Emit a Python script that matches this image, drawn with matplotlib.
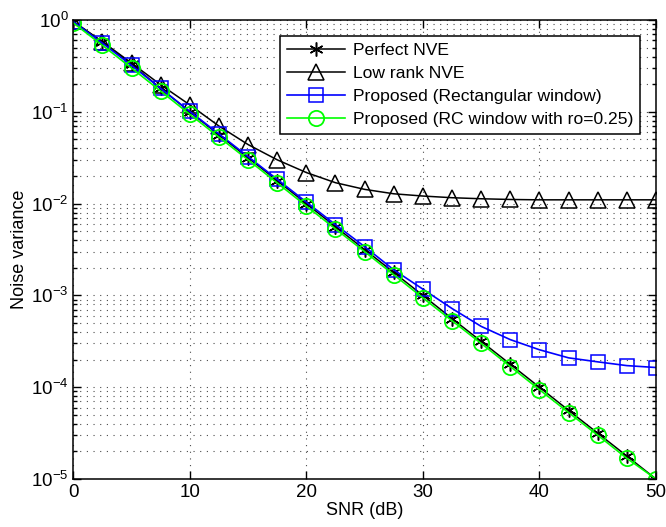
import matplotlib.pyplot as plt
from matplotlib.ticker import LogLocator, NullFormatter

plt.rcParams['font.family'] = ['Liberation Sans', 'DejaVu Sans']
plt.rcParams['mathtext.fontset'] = 'custom'
plt.rcParams['mathtext.rm'] = 'Liberation Sans'
plt.rcParams['mathtext.it'] = 'Liberation Sans:italic'

# data
snr = [0, 2.5, 5, 7.5, 10, 12.5, 15, 17.5, 20, 22.5, 25,
       27.5, 30, 32.5, 35, 37.5, 40, 42.5, 45, 47.5, 50]
perfect = [0.95, 0.58, 0.33, 0.18, 0.1, 0.056, 0.0316, 0.0178, 0.01, 0.0056, 0.00316,
           0.00178, 0.001, 0.00056, 0.000316, 0.000178, 0.0001, 5.6e-5, 3.16e-5, 1.78e-5, 1e-5]
low_rank = [0.97, 0.58, 0.34, 0.197, 0.119, 0.07, 0.044, 0.030, 0.0218, 0.0169, 0.0143,
            0.0128, 0.0121, 0.0116, 0.0113, 0.0111, 0.011, 0.011, 0.011, 0.011, 0.011]
rect = [0.96, 0.56, 0.32, 0.18, 0.101, 0.0575, 0.0325, 0.0184, 0.0104, 0.0059, 0.0034,
        0.0019, 0.00117, 0.00072, 0.00046, 0.00033, 0.000256, 0.000209, 0.000189, 0.000172, 0.000164]
rc = [0.93, 0.53, 0.30, 0.168, 0.094, 0.053, 0.030, 0.0168, 0.0094, 0.0053, 0.0030,
      0.00168, 0.00094, 0.00053, 0.00030, 0.000168, 9.4e-5, 5.3e-5, 3.0e-5, 1.68e-5, 1e-5]

labels = ['Perfect NVE', 'Low rank NVE', 'Proposed (Rectangular window)',
          'Proposed (RC window with ro=0.25)']

fig = plt.figure(figsize=(6.66, 5.27), dpi=100)
ax = fig.add_axes([0.110, 0.091, 0.875, 0.871])

asterisk = (6, 2, 0)
ax.semilogy(snr, perfect, '-', marker=asterisk, color='k', lw=1.1, ms=10, mew=1.1, label=labels[0])
ax.semilogy(snr, low_rank, '-^', color='k', lw=1.1, ms=11, mfc='none', mew=1.1, label=labels[1])
ax.semilogy(snr, rect, '-s', color='#0000ff', lw=1.2, ms=10, mfc='none', mew=1.1, label=labels[2])
ax.semilogy(snr, rc, '-o', color='#00ff00', lw=1.2, ms=11, mfc='none', mew=1.3, label=labels[3])

ax.set_xlim(0, 50)
ax.set_ylim(1e-5, 1)
ax.set_xticks([0, 10, 20, 30, 40, 50])
ax.yaxis.set_major_locator(LogLocator(base=10, numticks=10))
ax.yaxis.set_minor_locator(LogLocator(base=10, subs=range(2, 10), numticks=10))
ax.yaxis.set_minor_formatter(NullFormatter())

for s in ax.spines.values():
    s.set_linewidth(1.1)
ax.tick_params(which='both', direction='in', top=True, right=True, labelsize=13.5, width=1)
ax.tick_params(which='major', length=6)
ax.tick_params(which='minor', length=3)
grid_style = dict(ls=(0, (1, 5)), color='k', lw=0.8, alpha=0.7)
ax.grid(True, which='major', **grid_style)
ax.grid(True, which='minor', axis='y', **grid_style)

ax.set_xlabel('SNR (dB)', fontsize=13, labelpad=1)
ax.set_ylabel('Noise variance', fontsize=13, labelpad=2)

leg = ax.legend(loc='upper right', fontsize=12.6, fancybox=False, edgecolor='k',
                framealpha=1, borderaxespad=0.9, handlelength=3.3, handletextpad=0.45,
                labelspacing=0.45, borderpad=0.4)
leg.get_frame().set_linewidth(1.1)

fig.savefig('out.png', dpi=100)
